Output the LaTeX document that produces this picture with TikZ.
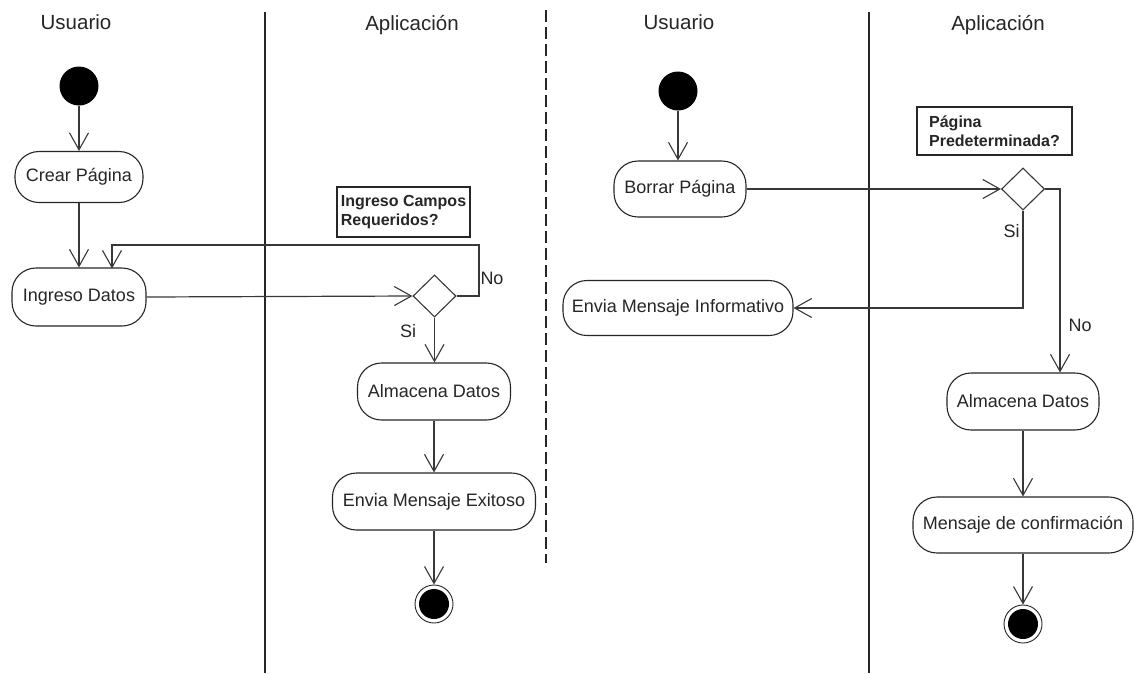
\documentclass[tikz,border=0pt]{standalone}
\usepackage{fontspec}
\setmainfont{Liberation Sans}
\usetikzlibrary{arrows.meta,shapes.geometric}
\definecolor{ink}{HTML}{262626}
\definecolor{wire}{HTML}{383838}
\tikzset{
  lane/.style={line width=1.3pt,draw=ink},
  act/.style={draw=ink,line width=1.1pt,rounded corners=24pt,minimum height=57pt,inner sep=0pt,
    font=\fontsize{18}{21}\selectfont,text=ink},
  notebox/.style={draw=ink,line width=1.1pt,inner sep=0pt,align=left,
    font=\fontsize{16}{19}\selectfont\bfseries,text=ink},
  decision/.style={diamond,draw=wire,line width=1.1pt,inner sep=0pt,minimum width=43pt,minimum height=42pt},
  startnode/.style={circle,fill=black,inner sep=0pt,minimum size=39pt},
  endnode/.style={circle,draw=ink,line width=0.9pt,inner sep=0pt,minimum size=38pt},
  flow/.style={draw=wire,line width=1.2pt,-{Straight Barb[length=17pt,width=19pt,line width=1.1pt]}},
  header/.style={font=\fontsize{20.5}{24}\selectfont,text=ink},
  guard/.style={font=\fontsize{18}{21}\selectfont,text=ink,inner sep=0pt},
}
\begin{document}
\begin{tikzpicture}[x=1pt,y=-1pt]
\useasboundingbox[fill=white] (0,0) rectangle (1134,673);

% lanes
\coordinate (l1t) at (265,12); \coordinate (l1b) at (265,673);
\coordinate (l2t) at (546,10); \coordinate (l2b) at (546,563);
\coordinate (l3t) at (869,12); \coordinate (l3b) at (869,673);
\draw[lane] (l1t) -- (l1b);
\draw[lane,dash pattern=on 12pt off 5pt] (l2t) -- (l2b);
\draw[lane] (l3t) -- (l3b);

% headers
\node[header] (h1) at (76,22) {Usuario};
\node[header] (h2) at (412,25) {Aplicación};
\node[header] (h3) at (679,22) {Usuario};
\node[header] (h4) at (998,25) {Aplicación};

% ---------- left diagram ----------
\node[startnode] (s1) at (79,86) {};
\node[act,minimum width=128pt,minimum height=51pt] (crear) at (79,177) {Crear Página};
\node[act,minimum width=134pt,minimum height=58pt] (ingreso) at (79,297) {Ingreso Datos};
\node[notebox,minimum width=133pt,minimum height=50pt] (n1) at (403.5,212) {Ingreso Campos\\Requeridos?};
\node[decision] (d1) at (434.5,296) {};
\node[act,minimum width=153pt] (alm1) at (434,391.5) {Almacena Datos};
\node[act,minimum width=203pt] (env1) at (434,501.5) {Envia Mensaje Exitoso};
\node[endnode] (e1) at (434,604) {};
\fill[black] (e1.center) circle (15pt);

\draw[flow] (s1) -- (crear);
\draw[flow] (crear) -- (ingreso);
\draw[flow] (ingreso.east) -- (d1.west);
\coordinate (lr) at (479,245);
\coordinate (ll) at (112,268.5);
\draw[flow] (d1.east) -| (lr) -| (ll);
\draw[flow] (d1.south) -- (alm1.north -| d1.south);
\draw[flow] (alm1) -- (env1);
\draw[flow] (env1) -- (e1);
\node[guard] (no1) at (492,278) {No};
\node[guard] (si1) at (408,331) {Si};

% ---------- right diagram ----------
\node[startnode] (s2) at (678,91) {};
\node[act,minimum width=132pt,minimum height=56pt] (borrar) at (680,189) {Borrar Página};
\node[notebox,minimum width=155pt,minimum height=48pt] (n2) at (994.5,131) {Página\\Predeterminada?};
\node[decision] (d2) at (1023,189) {};
\node[act,minimum width=230pt,minimum height=55pt] (info) at (678,308) {Envia Mensaje Informativo};
\node[act,minimum width=152pt] (alm2) at (1023,401.5) {Almacena Datos};
\node[act,minimum width=220pt,minimum height=56pt] (conf) at (1023,525) {Mensaje de confirmación};
\node[endnode] (e2) at (1023,624) {};
\fill[black] (e2.center) circle (15pt);

\draw[flow] (s2) -- (borrar.north -| s2);
\draw[flow] (borrar.east) -- (d2.west);
\coordinate (sr) at (1023,308);
\draw[flow] (d2.south) -- (sr) -- (info.east);
\coordinate (nr) at (1060,189);
\draw[flow] (d2.east) -- (nr) -- (alm2.north -| nr);
\draw[flow] (alm2) -- (conf);
\draw[flow] (conf) -- (e2);
\node[guard] (si2) at (1011.5,231) {Si};
\node[guard] (no2) at (1080,325) {No};
\end{tikzpicture}
\end{document}
